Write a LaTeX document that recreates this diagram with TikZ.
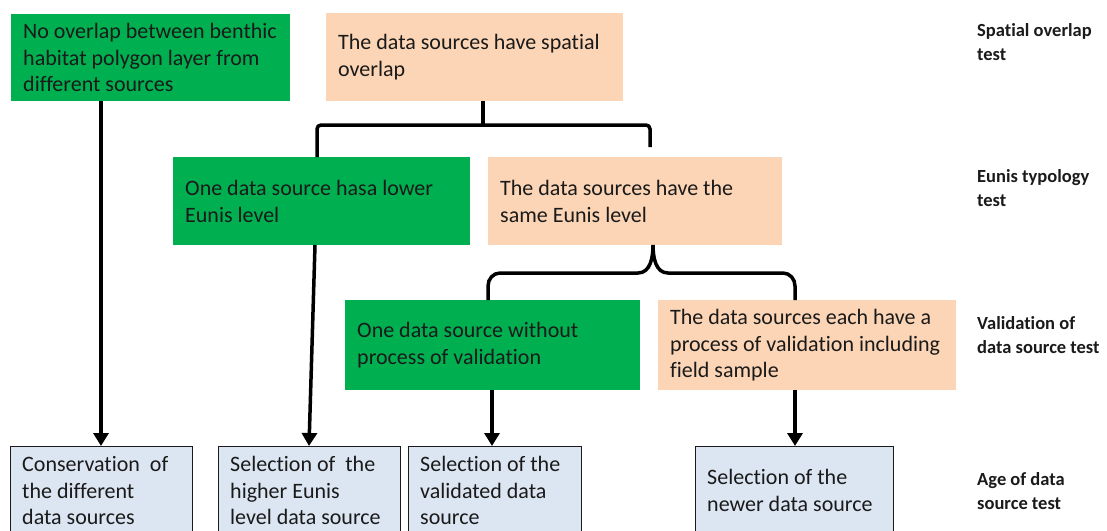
\documentclass[tikz,border=0pt]{standalone}
\usepackage{fontspec}
\setmainfont{Carlito}[Ligatures=NoCommon]
\usetikzlibrary{arrows.meta,calc}
\definecolor{boxgreen}{HTML}{00B050}
\definecolor{boxpeach}{HTML}{FBD5B5}
\definecolor{boxblue}{HTML}{DCE6F2}
\definecolor{ink}{HTML}{1A1A1A}
\begin{document}
\begin{tikzpicture}[x=1pt,y=-1pt,
  box/.style={anchor=north west, inner sep=0pt},
  greenbox/.style={box, fill=boxgreen},
  peachbox/.style={box, fill=boxpeach},
  resultbox/.style={box, fill=boxblue, draw=ink, line width=1.3pt},
  boxtext/.style={anchor=west, xshift=12pt, inner sep=0pt, align=left,
    text=ink, font=\fontsize{22}{26.5}\selectfont},
  testlabel/.style={anchor=west, align=left, inner sep=0pt, text=ink,
    font=\fontsize{18.5}{23.5}\selectfont\bfseries},
  bracket/.style={line width=3.5pt, draw=black},
  flow/.style={line width=3.5pt, draw=black, -{Triangle[width=15pt,length=13pt]}}
]
\useasboundingbox (0,0) rectangle (1107,530);

% decision boxes
\node[greenbox, minimum width=279pt, minimum height=87pt] (g1) at (11,14) {};
\node[boxtext] (g1t) at (g1.west)
  {No overlap between benthic\\habitat polygon layer from\\different sources};
\node[peachbox, minimum width=297pt, minimum height=88pt] (p1) at (326,13) {};
\node[boxtext] (p1t) at (p1.west)
  {The data sources have spatial\\overlap};
\node[greenbox, minimum width=297pt, minimum height=88pt] (g2) at (173,157) {};
\node[boxtext] (g2t) at (g2.west)
  {One data source hasa lower\\Eunis level};
\node[peachbox, minimum width=294pt, minimum height=88pt] (p2) at (488,157) {};
\node[boxtext] (p2t) at (p2.west)
  {The data sources have the\\same Eunis level};
\node[greenbox, minimum width=295pt, minimum height=90pt] (g3) at (345,300) {};
\node[boxtext] (g3t) at (g3.west)
  {One data source without\\process of validation};
\node[peachbox, minimum width=298pt, minimum height=90pt] (p3) at (658,300) {};
\node[boxtext] (p3t) at (p3.west)
  {The data sources each have a\\process of validation including\\field sample};

% outcome boxes
\node[resultbox, minimum width=182pt, minimum height=88pt] (r1) at (10,446) {};
\node[boxtext] (r1t) at (r1.west)
  {Conservation~ of\\the different\\data sources};
\node[resultbox, minimum width=182pt, minimum height=88pt] (r2) at (218,446) {};
\node[boxtext] (r2t) at (r2.west)
  {Selection of~ the\\higher Eunis\\level data source};
\node[resultbox, minimum width=173pt, minimum height=88pt] (r3) at (408,446) {};
\node[boxtext] (r3t) at (r3.west)
  {Selection of the\\validated data\\source};
\node[resultbox, minimum width=198pt, minimum height=88pt] (r4) at (695,446) {};
\node[boxtext] (r4t) at (r4.west)
  {Selection of the\\newer data source};

% test labels
\node[testlabel] (t1) at (977,42) {Spatial overlap\\test};
\node[testlabel] (t2) at (977,188) {Eunis typology\\test};
\node[testlabel] (t3) at (977,335) {Validation of\\data source test};
\node[testlabel] (t4) at (977,491) {Age of data\\source test};

% square bracket below the spatial overlap box
\coordinate (s1) at (483,101);
\coordinate (s2) at (483,125);
\coordinate (s3) at (317,157);
\coordinate (s4) at (650,147);
\draw[bracket] (s1) -- (s2);
\draw[bracket, rounded corners=4pt] (s3) -- (317,125) -- (650,125) -- (s4);

% curly brace below the Eunis level box
\coordinate (c0) at (653,245);
\coordinate (cl) at (488,300);
\coordinate (cr) at (795,300);
\draw[bracket] (cl) -- (488,286) to[out=90,in=180] (500,273) -- (638,273)
  to[out=0,in=-90] (c0) to[out=-90,in=180] (668,273) -- (783,273)
  to[out=0,in=90] (795,286) -- (cr);

% arrows to the outcomes
\coordinate (a1) at (101,101);
\coordinate (a2) at (315,245);
\coordinate (a3) at (492,390);
\coordinate (a4) at (795,390);
\draw[flow] (a1) -- (a1 |- r1.north);
\draw[flow] (a2) -- (309,446);
\draw[flow] (a3) -- (a3 |- r3.north);
\draw[flow] (a4) -- (a4 |- r4.north);
\end{tikzpicture}
\end{document}
